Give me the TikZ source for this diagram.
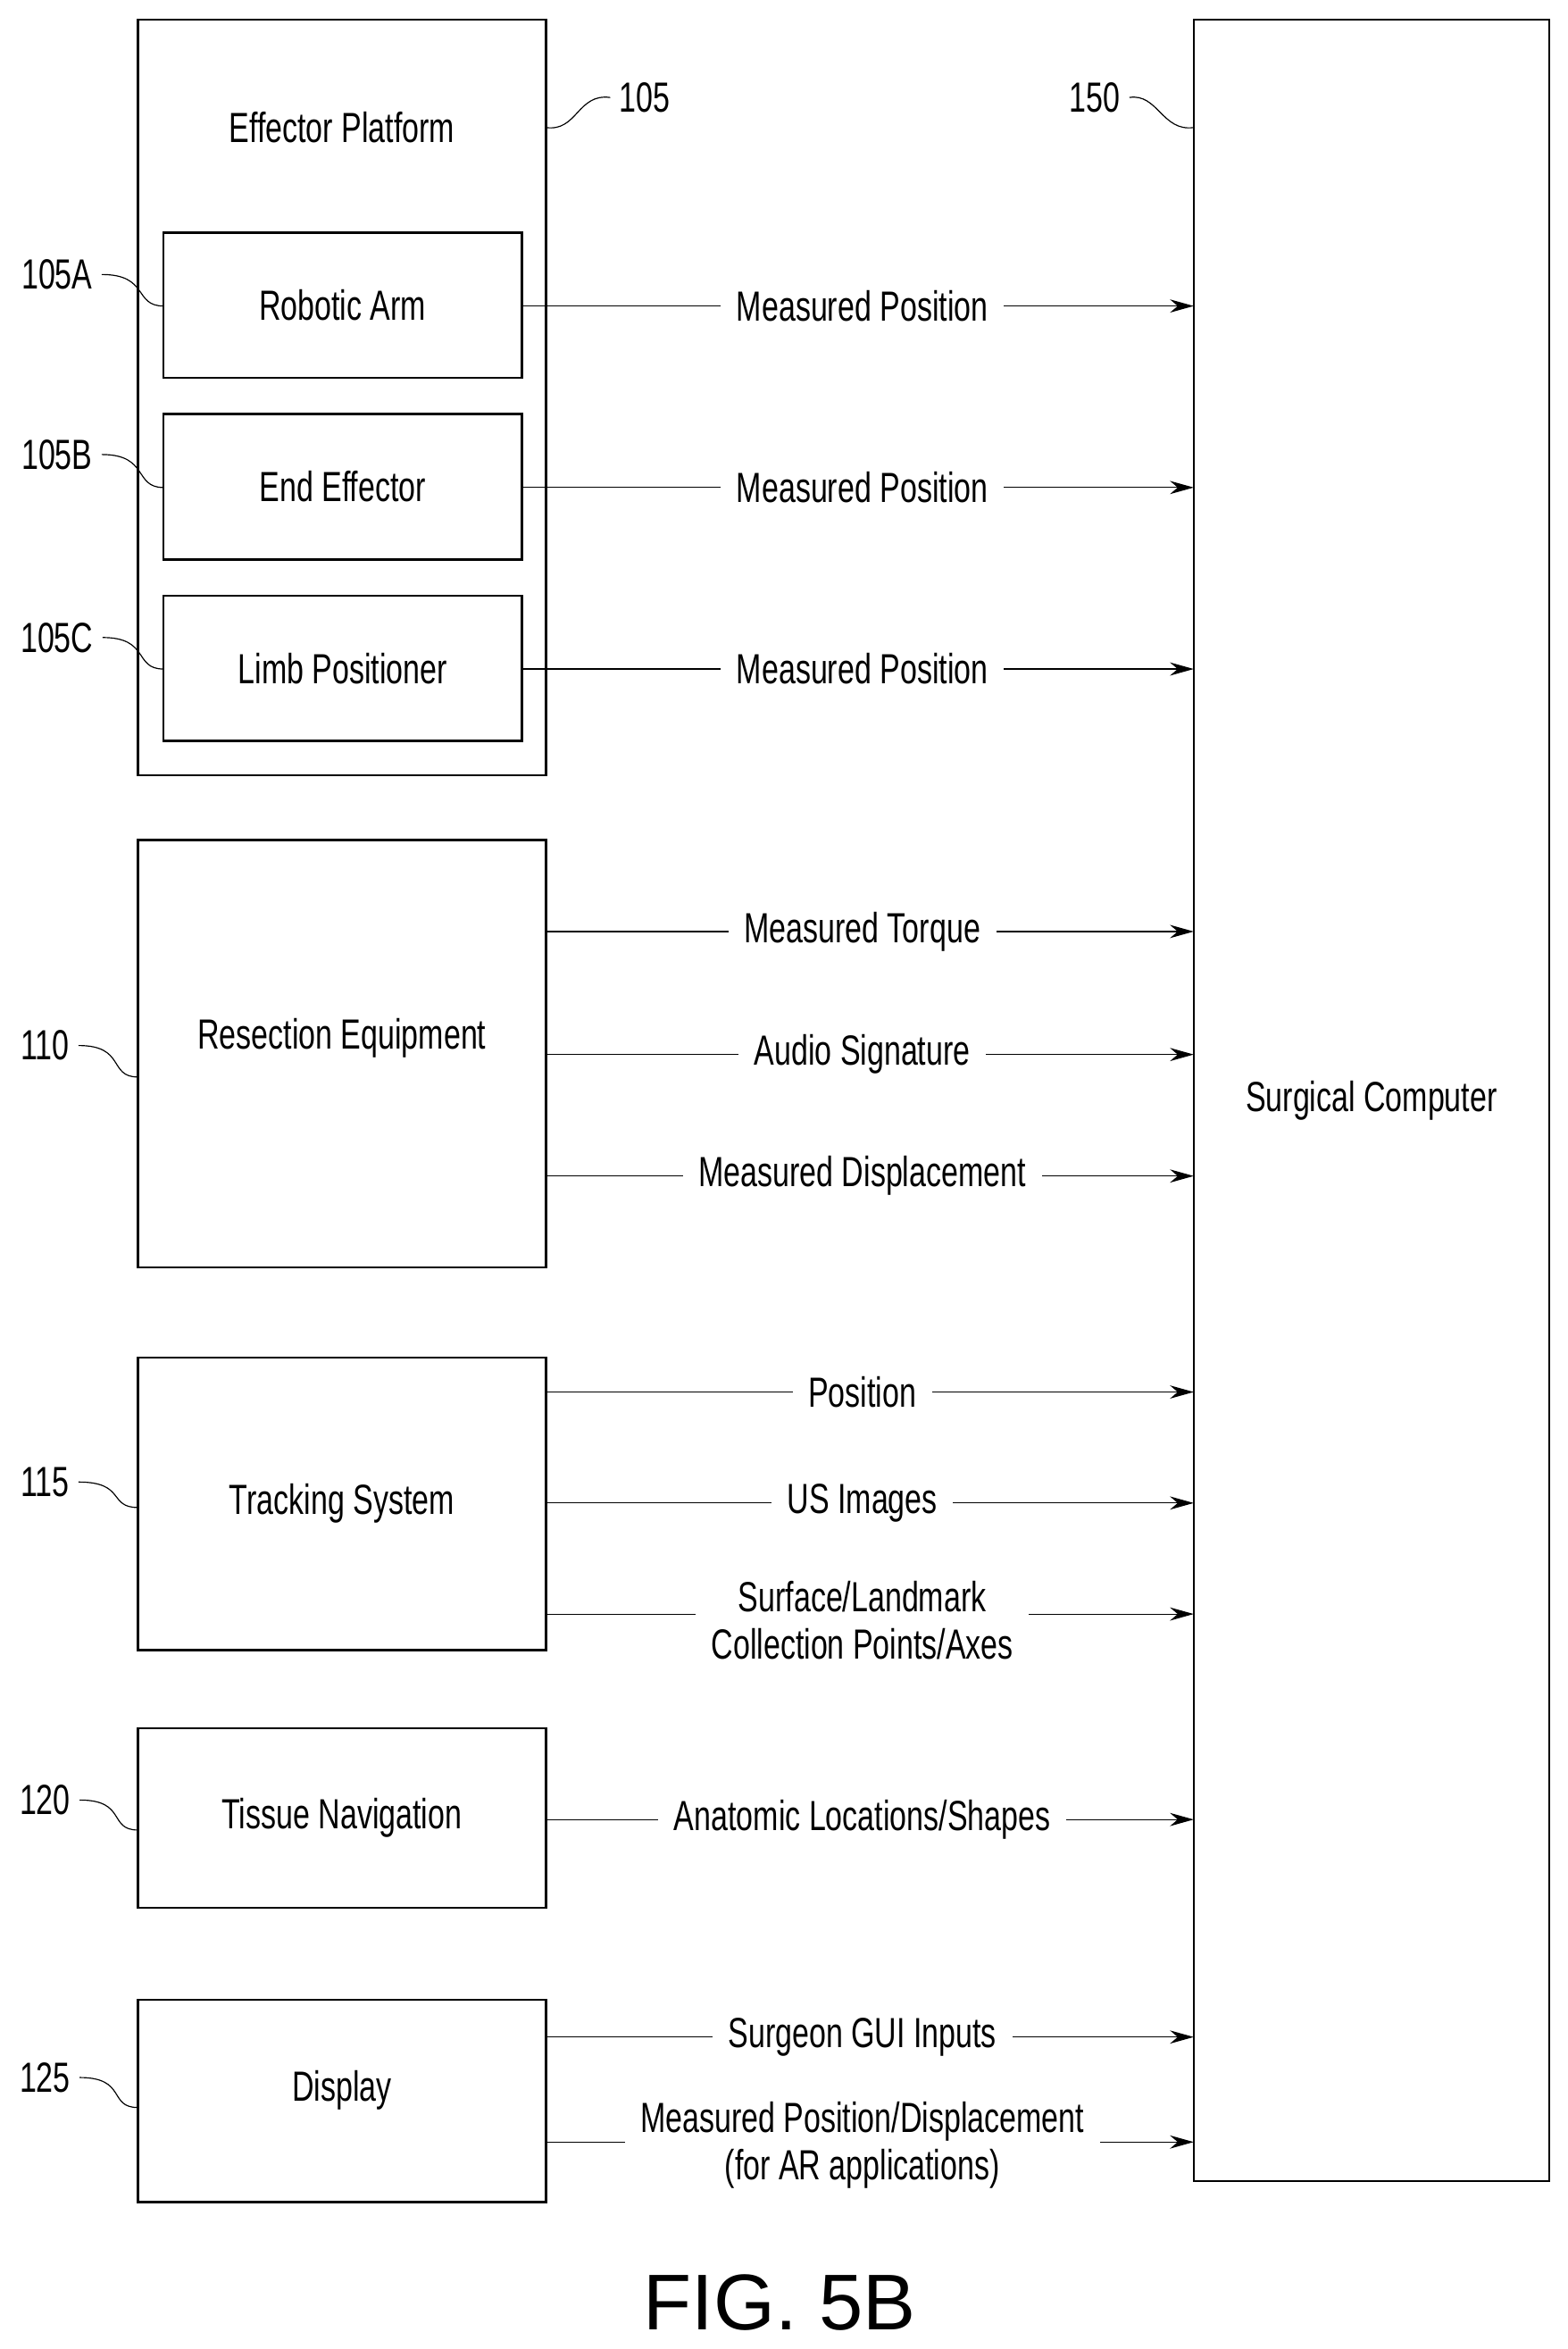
\documentclass[tikz,border=0pt]{standalone}
\usepackage{fontspec}
\setmainfont[FakeStretch=0.72]{Liberation Sans}
\newfontfamily\figfont{Liberation Sans}
\usetikzlibrary{arrows.meta}
\begin{document}
\begin{tikzpicture}[x=0.02cm,y=-0.02cm,
    blk/.style={draw, thick, font=\fontsize{16}{19}\selectfont},
    sig/.style={-{Stealth[length=9pt,width=5pt]}, thin},
    lab/.style={fill=white, inner xsep=6pt, font=\fontsize{16}{18}\selectfont, align=center},
    ref/.style={font=\fontsize{16}{19}\selectfont},
    lead/.style={thin}]
    \useasboundingbox (0,0) rectangle (1045,1566);

    % blocks
    \draw[blk] (92,13) rectangle (364,517);
    \node[ref] (effp) at (228,85) {Effector Platform};
    \draw[blk] (109,155) rectangle (348,252) node[midway] (arm) {Robotic Arm};
    \draw[blk] (109,276) rectangle (348,373) node[midway] (endf) {End Effector};
    \draw[blk] (109,397) rectangle (348,494) node[midway] (limb) {Limb Positioner};
    \draw[blk] (92,560) rectangle (364,845) node[midway,yshift=6pt] (resc) {Resection Equipment};
    \draw[blk] (92,905) rectangle (364,1100) node[midway] (trk) {Tracking System};
    \draw[blk] (92,1152) rectangle (364,1272) node[midway] (tiss) {Tissue Navigation};
    \draw[blk] (92,1333) rectangle (364,1468) node[midway,yshift=4pt] (disp) {Display};
    \draw[blk] (796,13) rectangle (1033,1454) node[midway] (comp) {Surgical Computer};

    % signals
    \foreach \ya/\xa/\txt in {204/348/Measured Position, 325/348/Measured Position,
        446/348/Measured Position, 621/364/Measured Torque, 703/364/Audio Signature,
        784/364/Measured Displacement, 928/364/Position, 1002/364/US Images,
        1213/364/{Anatomic Locations/Shapes}, 1358/364/Surgeon GUI Inputs} {
        \draw[sig] (\xa,\ya) -- (796,\ya);
        \node[lab] at (575,\ya) {\txt};
    }
    \draw[sig] (364,1076) -- (796,1076);
    \node[lab] at (575,1080) {Surface/Landmark\\Collection Points/Axes};
    \draw[sig] (364,1428) -- (796,1428);
    \node[lab] at (575,1430) {Measured Position/Displacement\\(for AR applications)};

    % reference numerals
    \node[ref] (n105) at (430,65) {105};
    \draw[lead] (n105.west) .. controls (385,62) and (385,88) .. (364,85);
    \node[ref] (n150) at (730,65) {150};
    \draw[lead] (n150.east) .. controls (772,62) and (775,88) .. (796,85);
    \foreach \nm/\ty/\ey/\ex/\tx in {105A/183/204/109/38, 105B/303/325/109/38, 105C/425/446/109/38,
        110/697/718/92/30, 115/988/1005/92/30, 120/1200/1220/92/30, 125/1385/1405/92/30} {
        \node[ref] (n\nm) at (\tx,\ty) {\nm};
        \draw[lead] (n\nm.east) .. controls ([xshift=18]n\nm.east) and (\ex-20,\ey) .. (\ex,\ey);
    }

    \node[font=\figfont\fontsize{30}{34}\selectfont] (fig) at (520,1535) {FIG. 5B};
\end{tikzpicture}
\end{document}
